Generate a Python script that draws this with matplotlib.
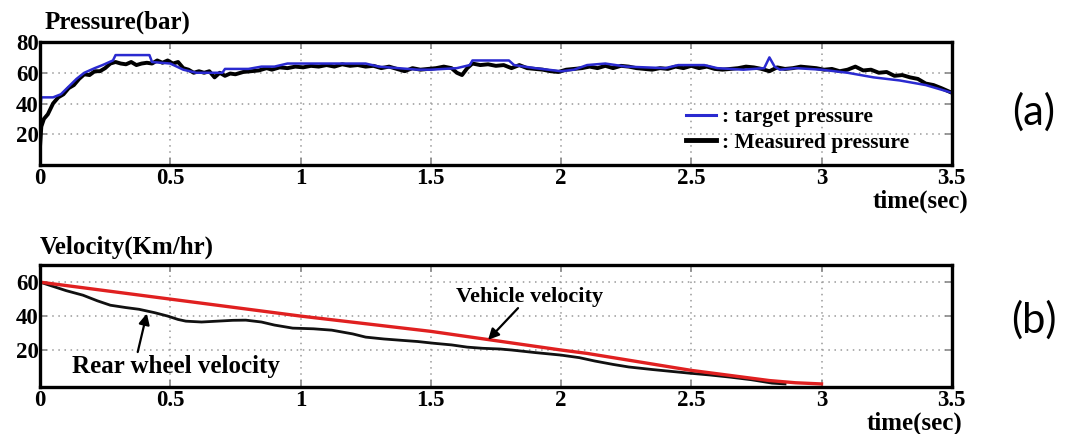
import matplotlib
matplotlib.use("Agg")
import matplotlib.pyplot as plt
from matplotlib.lines import Line2D

# ---------------- data ----------------
x_ticks = [0, 0.5, 1, 1.5, 2, 2.5, 3, 3.5]
x_tick_labels = ["0", "0.5", "1", "1.5", "2", "2.5", "3", "3.5"]
p_yticks = [20, 40, 60, 80]
v_yticks = [20, 40, 60]

target_t = [0.0, 0.005, 0.05, 0.08, 0.11, 0.14, 0.17, 0.21, 0.24, 0.28, 0.29, 0.42,
            0.43, 0.50, 0.55, 0.60, 0.65, 0.70, 0.71, 0.80, 0.85, 0.90, 0.95, 1.00,
            1.05, 1.25, 1.30, 1.45, 1.50, 1.60, 1.65, 1.66, 1.80, 1.82, 1.90, 2.00,
            2.05, 2.10, 2.17, 2.25, 2.40, 2.45, 2.55, 2.60, 2.70, 2.78, 2.80, 2.82,
            2.84, 2.90, 3.00, 3.10, 3.20, 3.30, 3.40, 3.50]
target_p = [35, 44, 44, 46, 51, 56, 60, 63, 65, 68, 71.5, 71.5,
            67, 66, 62, 60, 60, 60, 62.5, 62.5, 64, 64, 66, 66,
            66, 66, 64, 62, 62, 63, 65, 68, 68, 65, 63, 61,
            62, 65, 66, 64, 63, 65, 65, 63, 62, 63, 70, 64,
            62, 63, 62, 60, 57, 55, 52, 47]

meas_t = [0.00, 0.005, 0.015, 0.03, 0.05, 0.07, 0.09, 0.11, 0.13, 0.15, 0.17, 0.19,
          0.21, 0.23, 0.25, 0.27, 0.29, 0.31, 0.33, 0.35, 0.37, 0.39, 0.41, 0.43,
          0.45, 0.47, 0.49, 0.51, 0.53, 0.55, 0.57, 0.59, 0.61, 0.63, 0.65, 0.67,
          0.69, 0.71, 0.73, 0.75, 0.78, 0.81, 0.84, 0.87, 0.89, 0.92, 0.95, 0.98,
          1.01, 1.04, 1.07, 1.10, 1.13, 1.16, 1.19, 1.22, 1.25, 1.28, 1.31, 1.34,
          1.37, 1.40, 1.43, 1.46, 1.49, 1.52, 1.55, 1.58, 1.60, 1.62, 1.64, 1.66,
          1.69, 1.72, 1.75, 1.78, 1.81, 1.84, 1.87, 1.90, 1.93, 1.96, 1.99, 2.02,
          2.05, 2.08, 2.11, 2.14, 2.17, 2.20, 2.23, 2.26, 2.29, 2.32, 2.35, 2.38,
          2.41, 2.44, 2.47, 2.50, 2.53, 2.56, 2.59, 2.62, 2.65, 2.68, 2.71, 2.74,
          2.77, 2.80, 2.83, 2.86, 2.89, 2.92, 2.95, 2.98, 3.01, 3.04, 3.07, 3.10,
          3.13, 3.16, 3.19, 3.22, 3.25, 3.28, 3.31, 3.34, 3.37, 3.40, 3.43, 3.46,
          3.50]
meas_p = [12, 25, 30, 33, 40, 44, 46, 50, 52, 56, 59, 58.5,
          61, 61, 63, 66, 67, 66, 65.5, 67, 65, 66, 66.5, 66,
          68, 66.5, 68, 66, 67, 63, 62, 60, 61, 60, 61, 57,
          60, 58, 59.5, 59, 60.5, 61, 61.5, 63, 62, 63.5, 63, 64,
          63.5, 64.5, 64, 65, 64, 65.5, 64.5, 65, 64, 64.5, 63, 64,
          62.5, 61, 63, 62, 62.5, 63, 64, 63, 60, 58.5, 63, 66,
          65, 65.5, 64.5, 65, 63, 65, 63, 62.5, 62, 61, 60.5, 62,
          62.5, 63, 64, 63, 64.5, 63, 64.5, 64, 63, 62.5, 62, 63,
          62.5, 64, 63, 64.5, 63, 64, 62.5, 62, 62.5, 63, 64, 63.5,
          62.5, 61, 63.5, 62.5, 63, 64, 63.5, 63, 62, 62.5, 61, 62,
          64, 61.5, 62, 60, 60.5, 58, 58.5, 57, 56, 53, 52, 50,
          47]

vehicle_t = [0, 0.25, 0.5, 0.75, 1.0, 1.25, 1.5, 1.75, 2.0, 2.1, 2.2, 2.3,
             2.4, 2.5, 2.6, 2.7, 2.8, 2.9, 3.0]
vehicle_v = [60, 55, 50, 45, 40, 35.5, 31, 25.5, 20, 18, 15.5, 13,
             10.5, 8, 6, 4, 2, 0.7, 0]

rear_t = [0, 0.04, 0.10, 0.165, 0.22, 0.27, 0.33, 0.38, 0.44, 0.49, 0.53, 0.56,
          0.62, 0.68, 0.74, 0.79, 0.85, 0.90, 0.97, 1.05, 1.12, 1.20, 1.25, 1.32,
          1.38, 1.45, 1.51, 1.58, 1.64, 1.70, 1.765, 1.81, 1.90, 2.00, 2.07, 2.13,
          2.20, 2.26, 2.35, 2.49, 2.57, 2.65, 2.73, 2.81, 2.86]
rear_v = [60, 58, 55, 52.3, 49, 46.4, 45, 44, 42, 40, 38, 37,
          36.5, 37, 37.5, 37.6, 36.5, 34.7, 32.9, 32.5, 31.7, 29.5, 27.6, 26.5,
          25.8, 25, 24, 23, 21.7, 21, 20.6, 20, 18.5, 17, 15.5, 13.5,
          11.5, 10, 8.5, 6.4, 5.3, 4, 2.5, 0.5, 0]

# ---------------- style ----------------
SERIF = ["Liberation Serif", "DejaVu Serif"]
fig = plt.figure(figsize=(10.73, 4.34), dpi=100)
fig.patch.set_facecolor("white")

ax1 = fig.add_axes([0.0373, 0.6198, 0.8497, 0.2834])
ax2 = fig.add_axes([0.0373, 0.1083, 0.8497, 0.2807])


def style(ax, yticks, ylim):
    ax.set_xlim(0, 3.5)
    ax.set_ylim(*ylim)
    ax.set_xticks(x_ticks)
    ax.set_xticklabels(x_tick_labels, fontfamily=SERIF, fontweight="bold", fontsize=16.5)
    ax.set_yticks(yticks)
    ax.set_yticklabels([str(v) for v in yticks], fontfamily=SERIF, fontweight="bold", fontsize=16.5)
    ax.tick_params(direction="in", top=True, right=True, length=5, width=1.2,
                   color="#888888", pad=2)
    ax.tick_params(axis="y", pad=1)
    ax.grid(True, linestyle=(0, (1, 3)), color="#999999", linewidth=1.1)
    for s in ax.spines.values():
        s.set_linewidth(2.4)
        s.set_color("black")
        s.set_zorder(5)


style(ax1, p_yticks, (0, 80))
style(ax2, v_yticks, (-1.8, 70))

# pressure
ax1.plot(target_t, target_p, color="#2a2ad0", lw=1.8, zorder=3)
ax1.plot(meas_t, meas_p, color="black", lw=2.8, zorder=2)
handles = [Line2D([], [], color="#2a2ad0", lw=2.2), Line2D([], [], color="black", lw=3.5)]
leg = ax1.legend(handles, [": target pressure", ": Measured pressure"],
                 loc="upper left", bbox_to_anchor=(0.708, 0.47), frameon=False,
                 handlelength=1.4, handletextpad=0.3, labelspacing=0.25,
                 borderaxespad=0, borderpad=0,
                 prop={"family": SERIF, "weight": "bold", "size": 15.5})

# velocity
ax2.plot(vehicle_t, vehicle_v, color="#e02020", lw=2.4, zorder=3)
ax2.plot(rear_t, rear_v, color="#111111", lw=2.0, zorder=2)

arrow = dict(arrowstyle="-|>", color="black", lw=1.6, mutation_scale=16,
             shrinkA=0, shrinkB=0)
ax2.annotate("", xy=(1.72, 26.0), xytext=(1.835, 44.7), arrowprops=arrow)
ax2.annotate("", xy=(0.41, 41.5), xytext=(0.375, 18.8), arrowprops=arrow)
ax2.text(1.88, 51.0, "Vehicle velocity", fontfamily=SERIF, fontweight="bold",
         fontsize=16, ha="center", va="center")
ax2.text(0.52, 10.0, "Rear wheel velocity", fontfamily=SERIF, fontweight="bold",
         fontsize=18, ha="center", va="center")

# titles & labels
fig.text(45 / 1073, 1 - 22 / 434, "Pressure(bar)", fontfamily=SERIF, fontweight="bold",
         fontsize=18, ha="left", va="center")
fig.text(40 / 1073, 1 - 247 / 434, "Velocity(Km/hr)", fontfamily=SERIF, fontweight="bold",
         fontsize=18, ha="left", va="center")
fig.text(968 / 1073, 1 - 201 / 434, "time(sec)", fontfamily=SERIF, fontweight="bold",
         fontsize=18, ha="right", va="center")
fig.text(962 / 1073, 1 - 423 / 434, "time(sec)", fontfamily=SERIF, fontweight="bold",
         fontsize=18, ha="right", va="center")

fig.text(1034 / 1073, 1 - 112 / 434, "(a)", fontfamily=["Lato", "DejaVu Sans"],
         fontsize=30, ha="center", va="center")
fig.text(1034 / 1073, 1 - 320 / 434, "(b)", fontfamily=["Lato", "DejaVu Sans"],
         fontsize=30, ha="center", va="center")

fig.savefig("out.png", dpi=100, facecolor="white")
